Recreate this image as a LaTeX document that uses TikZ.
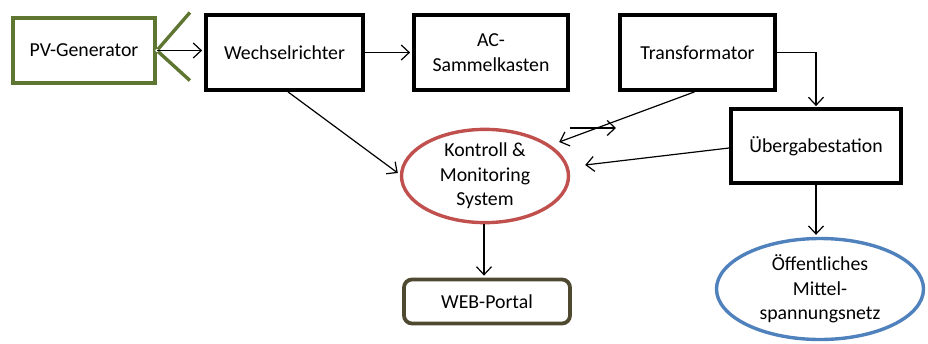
\documentclass[tikz,border=0pt]{standalone}
\usepackage{fontspec}
\setmainfont{Carlito}
\usetikzlibrary{arrows.meta,shapes.geometric,calc}
\definecolor{pvgreen}{RGB}{95,117,50}
\definecolor{kmsred}{RGB}{192,80,77}
\definecolor{netblue}{RGB}{79,129,189}
\definecolor{webbrown}{RGB}{78,73,48}
\begin{document}
\begin{tikzpicture}[x=1pt,y=1pt,
  font=\fontsize{19.8}{24.5}\selectfont,
  blk/.style={draw=black, line width=3.8pt, align=center, inner sep=0pt},
  pvbox/.style={blk, draw=pvgreen, minimum width=142pt, minimum height=65pt},
  kmsell/.style={ellipse, draw=kmsred, line width=3.4pt, align=center, inner sep=0pt,
                 minimum width=167pt, minimum height=89pt},
  netell/.style={ellipse, draw=netblue, line width=3.4pt, align=center, inner sep=0pt,
                 minimum width=207pt, minimum height=101pt},
  webbox/.style={draw=webbrown, line width=3.8pt, rounded corners=8pt,
                 minimum width=166pt, minimum height=44pt, inner sep=0pt},
  conn/.style={line width=1.2pt, -{Straight Barb[length=8pt,width=15pt]}}]
\useasboundingbox (0,0) rectangle (928,-343);

% boxes
\node[pvbox] (pv) at (84,-50.5) {PV-Generator};
\node[blk, minimum width=157pt, minimum height=75pt] (wr) at (284.5,-52.5) {Wechselrichter};
\node[blk, minimum width=154pt, minimum height=75pt] (ac) at (491,-52.5) {AC-\\Sammelkasten};
\node[blk, minimum width=155pt, minimum height=75pt] (tr) at (697.5,-52.5) {Transformator};
\node[blk, minimum width=170pt, minimum height=74pt] (ue) at (816,-146) {Übergabestation};
\node[kmsell] (kms) at (485,-176) {Kontroll \&\\Monitoring\\System};
\node[netell] (oe) at (820,-289) {Öffentliches\\Mittel-\\spannungsnetz};
\node[webbox] (web) at (487,-301.5) {WEB-Portal};

% interface symbol on the generator
\draw[pvgreen, line width=3.4pt] ([shift={(33,38)}]pv.east) -- (pv.east) -- ([shift={(33,-30)}]pv.east);
\draw[pvgreen, line width=1pt, fill=white] (pv.east) circle (2.2pt);

% connectors
\draw[conn, shorten >=2pt] (pv.east) -- (pv.east -| wr.west);
\draw[conn, shorten >=2pt] (wr.east) -- (wr.east -| ac.west);
\draw[conn, shorten >=1pt] (tr.east) -| (ue.north);
\draw[conn, shorten >=2pt] (ue.south) -- (ue.south |- oe.north);
\draw[conn, shorten >=2pt] ([xshift=-1pt]kms.south) -- ([xshift=-1pt]kms.south |- web.north);
\draw[conn] ([xshift=3.5pt]wr.south) -- ([shift={(-2pt,3pt)}]kms.west);
\draw[conn] ([xshift=-3pt]tr.south) -- ([shift={(-11pt,34pt)}]kms.east);
\draw[conn] ([yshift=-2pt]ue.west) -- ([shift={(15pt,11pt)}]kms.east);
\coordinate (xa) at (570,-128);
\coordinate (xb) at (616,-128);
\draw[conn] (xa) -- (xb);
\end{tikzpicture}
\end{document}
